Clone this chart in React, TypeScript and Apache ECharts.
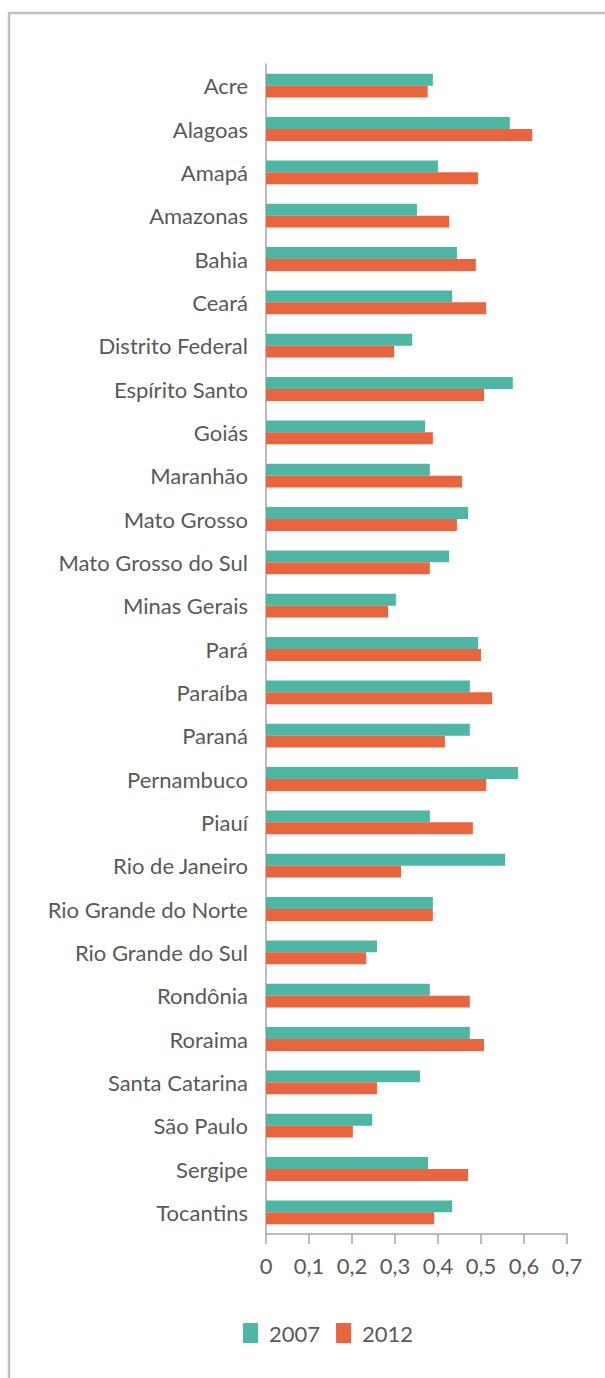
import React, { useEffect, useRef } from "react";
import * as echarts from "echarts";

const categories = [
  "Acre", "Alagoas", "Amapá", "Amazonas", "Bahia", "Ceará", "Distrito Federal",
  "Espírito Santo", "Goiás", "Maranhão", "Mato Grosso", "Mato Grosso do Sul",
  "Minas Gerais", "Pará", "Paraíba", "Paraná", "Pernambuco", "Piauí",
  "Rio de Janeiro", "Rio Grande do Norte", "Rio Grande do Sul", "Rondônia",
  "Roraima", "Santa Catarina", "São Paulo", "Sergipe", "Tocantins",
];

const values2007 = [
  0.388, 0.567, 0.400, 0.351, 0.444, 0.433, 0.340,
  0.574, 0.370, 0.381, 0.470, 0.426,
  0.302, 0.493, 0.474, 0.474, 0.586, 0.381,
  0.556, 0.388, 0.258, 0.381,
  0.474, 0.358, 0.247, 0.377, 0.433,
];

const values2012 = [
  0.376, 0.619, 0.493, 0.426, 0.488, 0.512, 0.298,
  0.507, 0.388, 0.456, 0.444, 0.381,
  0.284, 0.500, 0.526, 0.416, 0.512, 0.481,
  0.314, 0.388, 0.233, 0.474,
  0.507, 0.258, 0.202, 0.470, 0.391,
];

const seriesNames = ["2007", "2012"];
const xTicks = [0, 0.1, 0.2, 0.3, 0.4, 0.5, 0.6, 0.7];

const FONT = "Lato";
const TEXT = "#595959";

export default function App() {
  const ref = useRef<HTMLDivElement>(null);
  useEffect(() => {
    document.body.style.margin = "0";
    const chart = echarts.init(ref.current!, null, { renderer: "svg" });
    chart.setOption({
      animation: false,
      backgroundColor: "#ffffff",
      textStyle: { fontFamily: FONT },
      graphic: [
        {
          type: "rect",
          shape: { x: 9, y: 13, width: 640, height: 1420 },
          style: { fill: "none", stroke: "#c0c0c0", lineWidth: 2.5 },
          silent: true,
        },
      ],
      legend: {
        data: seriesNames,
        bottom: 34,
        left: 243,
        padding: 0,
        itemWidth: 15,
        itemHeight: 20,
        itemGap: 16,
        icon: "rect",
        textStyle: { fontFamily: FONT, fontSize: 22, color: TEXT, padding: [0, 0, 0, 6] },
      },
      grid: { left: 266, right: 38, top: 64, bottom: 144, containLabel: false },
      xAxis: {
        type: "value",
        min: 0,
        max: 0.7,
        interval: 0.1,
        axisLine: { show: true, lineStyle: { color: "#a6a6a6", width: 1.5 } },
        axisTick: { show: true, length: 10, lineStyle: { color: "#a6a6a6", width: 1.5 } },
        splitLine: { show: false },
        axisLabel: {
          fontFamily: FONT,
          fontSize: 22,
          color: TEXT,
          margin: 20,
          formatter: (v: number) => {
            const t = xTicks.find((x) => Math.abs(x - v) < 1e-6);
            const val = t === undefined ? v : t;
            return val === 0 ? "0" : val.toFixed(1).replace(".", ",");
          },
        },
      },
      yAxis: {
        type: "category",
        data: categories,
        inverse: true,
        axisLine: { show: true, lineStyle: { color: "#a6a6a6", width: 1.5 } },
        axisTick: { show: false },
        axisLabel: { fontFamily: FONT, fontSize: 22, color: TEXT, margin: 18 },
      },
      series: [
        {
          name: seriesNames[0],
          type: "bar",
          data: values2007,
          itemStyle: { color: "#4db6a4" },
          barGap: "0%",
          barCategoryGap: "45%",
        },
        {
          name: seriesNames[1],
          type: "bar",
          data: values2012,
          itemStyle: { color: "#ea653d" },
          barGap: "0%",
          barCategoryGap: "45%",
        },
      ],
    });
    return () => chart.dispose();
  }, []);
  return <div ref={ref} style={{ width: 605, height: 1378 }} />;
}
